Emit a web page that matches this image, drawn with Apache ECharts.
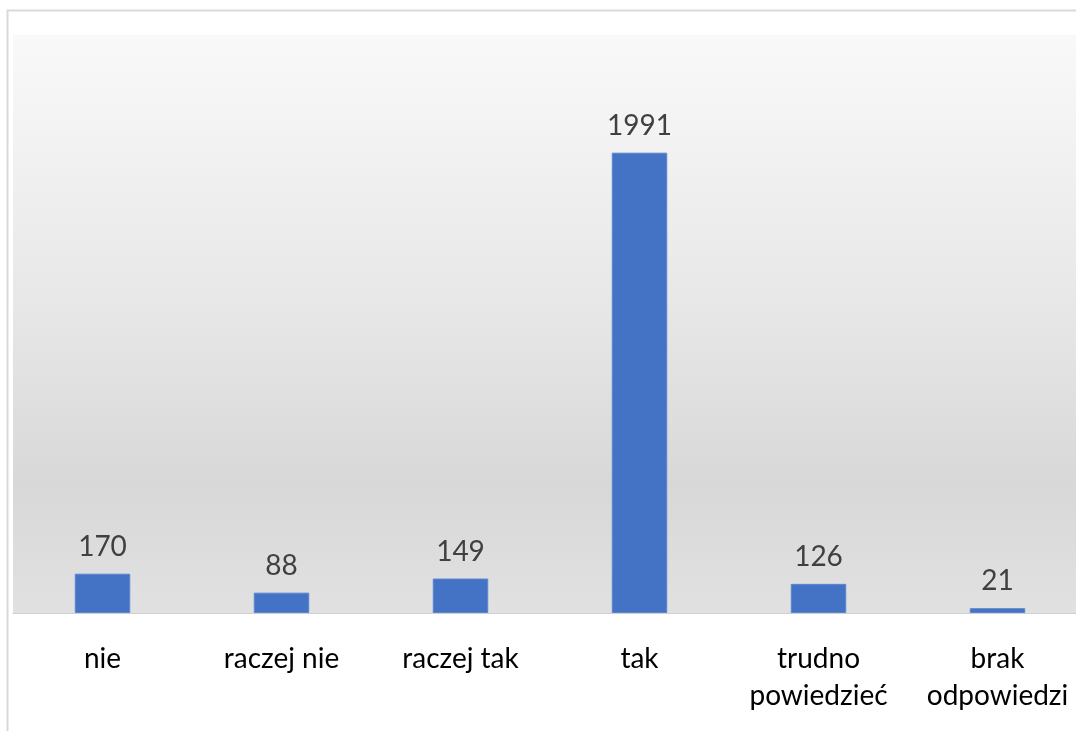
<!DOCTYPE html>
<html><head><meta charset="utf-8">
<script src="https://cdn.jsdelivr.net/npm/echarts@6/dist/echarts.min.js"></script>
<style>html,body{margin:0;padding:0;background:#fff;}#c{width:1076px;height:731px;}</style>
</head><body><div id="c"></div>
<script>
const categories = ['nie', 'raczej nie', 'raczej tak', 'tak', 'trudno\npowiedzieć', 'brak\nodpowiedzi'];
const values = [170, 88, 149, 1991, 126, 21];
const yMax = 2500;

const chart = echarts.init(document.getElementById('c'));
chart.setOption({
  animation: false,
  graphic: [{
    type: 'rect', z: -10,
    shape: {x: 7.5, y: 10.5, width: 1100, height: 800},
    style: {fill: '#fff', stroke: '#d9d9d9', lineWidth: 2}
  }],
  grid: {
    left: 13, top: 35, width: 1074, bottom: 118, containLabel: false,
    outerBoundsMode: 'none',
    show: true, borderWidth: 0,
    backgroundColor: new echarts.graphic.LinearGradient(0, 0, 0, 1, [
      {offset: 0, color: '#f9f9f9'},
      {offset: 0.45, color: '#e8e8e8'},
      {offset: 0.78, color: '#d8d8d8'},
      {offset: 1, color: '#e1e1e1'}
    ])
  },
  xAxis: {
    type: 'category', data: categories,
    axisLine: {show: true, lineStyle: {color: '#d0d0d0', width: 1}},
    axisTick: {show: false},
    axisLabel: {color: '#000', fontSize: 28, fontFamily: 'Lato', margin: 27, lineHeight: 37, interval: 0}
  },
  yAxis: {
    type: 'value', min: 0, max: yMax, show: false, splitLine: {show: false}
  },
  series: [{
    type: 'bar', data: values, barWidth: '31%',
    itemStyle: {color: '#4472C4', borderColor: '#5a86d0', borderWidth: 1},
    label: {show: true, position: 'top', distance: 13, color: '#404040', fontSize: 28, fontFamily: 'Lato'}
  }]
});
</script></body></html>
